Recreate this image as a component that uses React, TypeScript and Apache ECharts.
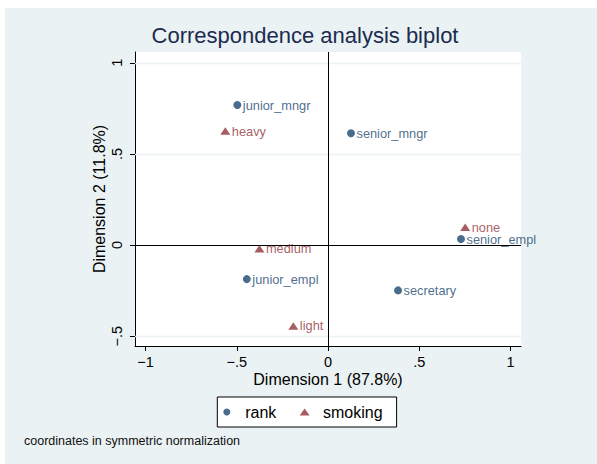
import React, { useEffect, useRef } from "react";
import * as echarts from "echarts";

const rankNames = ["junior_mngr", "senior_mngr", "senior_empl", "junior_empl", "secretary"];
const rankX = [-0.497, 0.126, 0.729, -0.445, 0.384];
const rankY = [0.768, 0.613, 0.033, -0.187, -0.249];

const smokingNames = ["heavy", "medium", "none", "light"];
const smokingX = [-0.563, -0.376, 0.752, -0.19];
const smokingY = [0.625, -0.02, 0.097, -0.444];

const xTicks = [-1, -0.5, 0, 0.5, 1];
const yTicks = [-0.5, 0, 0.5, 1];
const yGrid = [-0.5, 0.5, 1];

const NAVY = "#1a476f";
const MAROON = "#90353b";
const FONT = "'Liberation Sans', Arial, Helvetica, sans-serif";

const fmt = (v: number) => {
  if (v === 0) return "0";
  const s = String(Math.abs(v)).replace(/^0\./, ".");
  return v < 0 ? "\u2212" + s : s;
};

export default function App() {
  const ref = useRef<HTMLDivElement>(null);
  useEffect(() => {
    if (!ref.current) return;
    const chart = echarts.init(ref.current, undefined, { renderer: "svg" });
    const labelCommon = {
      show: true,
      position: "right",
      distance: 1.5,
      formatter: "{b}",
      fontSize: 12.8,
      lineHeight: 11,
      fontFamily: FONT,
    };
    chart.setOption({
      animation: false,
      backgroundColor: "#eaf2f3",
      textStyle: { fontFamily: FONT },
      title: {
        text: "Correspondence analysis biplot",
        left: 300,
        top: 16,
        textAlign: "center",
        padding: 0,
        textStyle: { fontSize: 22, fontWeight: "normal", color: "#1c2b4f", fontFamily: FONT },
      },
      legend: {
        data: [
          { name: "rank", icon: "circle" },
          { name: "smoking", icon: "triangle" },
        ],
        left: 212.3,
        top: 389,
        orient: "horizontal",
        itemWidth: 10,
        itemHeight: 7,
        itemGap: 23.3,
        padding: [7, 14, 7, 6],
        backgroundColor: "#ffffff",
        borderColor: "#000000",
        borderWidth: 1,
        borderRadius: 0,
        selectedMode: false,
        formatter: (n: string) => "{a|" + n + "}",
        textStyle: {
          fontSize: 16,
          color: "#000",
          fontFamily: FONT,
          rich: { a: { fontSize: 16, color: "#000", fontFamily: FONT, padding: [0, 0, 0, 8.4], lineHeight: 16 } },
        },
      },
      grid: {
        left: 130,
        top: 44,
        width: 386,
        height: 294,
        show: true,
        backgroundColor: "#ffffff",
        borderWidth: 0,
        containLabel: false,
      },
      xAxis: {
        type: "value",
        min: -1.058,
        max: 1.058,
        name: "Dimension 1 (87.8%)",
        nameLocation: "middle",
        nameGap: 25,
        nameMoveOverlap: false,
        nameTextStyle: { fontSize: 16, color: "#000", fontFamily: FONT },
        axisLine: { show: true, onZero: false, lineStyle: { color: "#000", width: 1 } },
        axisTick: { show: true, inside: false, length: 5, customValues: xTicks, lineStyle: { color: "#000" } },
        axisLabel: { customValues: xTicks, formatter: fmt, fontSize: 14.5, color: "#000", margin: 8.6, fontFamily: FONT },
        splitLine: { show: false },
      },
      yAxis: {
        type: "value",
        min: -0.554,
        max: 1.059,
        name: "Dimension 2 (11.8%)",
        nameLocation: "middle",
        nameGap: 28,
        nameMoveOverlap: false,
        nameTextStyle: { fontSize: 16, color: "#000", fontFamily: FONT },
        axisLine: { show: true, onZero: false, lineStyle: { color: "#000", width: 1 } },
        axisTick: { show: true, inside: false, length: 5, customValues: yTicks, lineStyle: { color: "#000" } },
        axisLabel: { customValues: yTicks, formatter: fmt, fontSize: 14.5, color: "#000", margin: 11, rotate: 90, fontFamily: FONT },
        splitLine: { show: false },
      },
      series: [
        {
          type: "scatter",
          name: "grid",
          data: [],
          silent: true,
          z: 1,
          markLine: {
            silent: true,
            symbol: "none",
            label: { show: false },
            lineStyle: { color: "#eaf2f3", width: 1.3, type: "solid" },
            data: yGrid.map((v) => ({ yAxis: v })),
          },
        },
        {
          type: "scatter",
          name: "zero",
          data: [],
          silent: true,
          z: 2,
          markLine: {
            silent: true,
            symbol: "none",
            label: { show: false },
            lineStyle: { color: "#000", width: 1, type: "solid" },
            data: [{ xAxis: 0 }, { yAxis: 0 }],
          },
        },
        {
          type: "scatter",
          name: "rank",
          symbol: "circle",
          symbolSize: 8,
          z: 5,
          itemStyle: { color: NAVY },
          label: { ...labelCommon, color: NAVY },
          data: rankNames.map((n, i) => ({ name: n, value: [rankX[i], rankY[i]] })),
        },
        {
          type: "scatter",
          name: "smoking",
          symbol: "triangle",
          symbolSize: [10, 7.5],
          z: 5,
          itemStyle: { color: MAROON },
          label: { ...labelCommon, color: MAROON },
          data: smokingNames.map((n, i) => ({ name: n, value: [smokingX[i], smokingY[i]] })),
        },
      ],
      graphic: [
        {
          type: "text",
          left: 19,
          top: 426,
          style: {
            text: "coordinates in symmetric normalization",
            fontSize: 12.5,
            fill: "#111",
            fontFamily: FONT,
          },
        },
      ],
    });
    return () => chart.dispose();
  }, []);
  return (
    <div
      ref={ref}
      style={{ position: "absolute", left: 5, top: 8, width: 592, height: 456 }}
    />
  );
}
